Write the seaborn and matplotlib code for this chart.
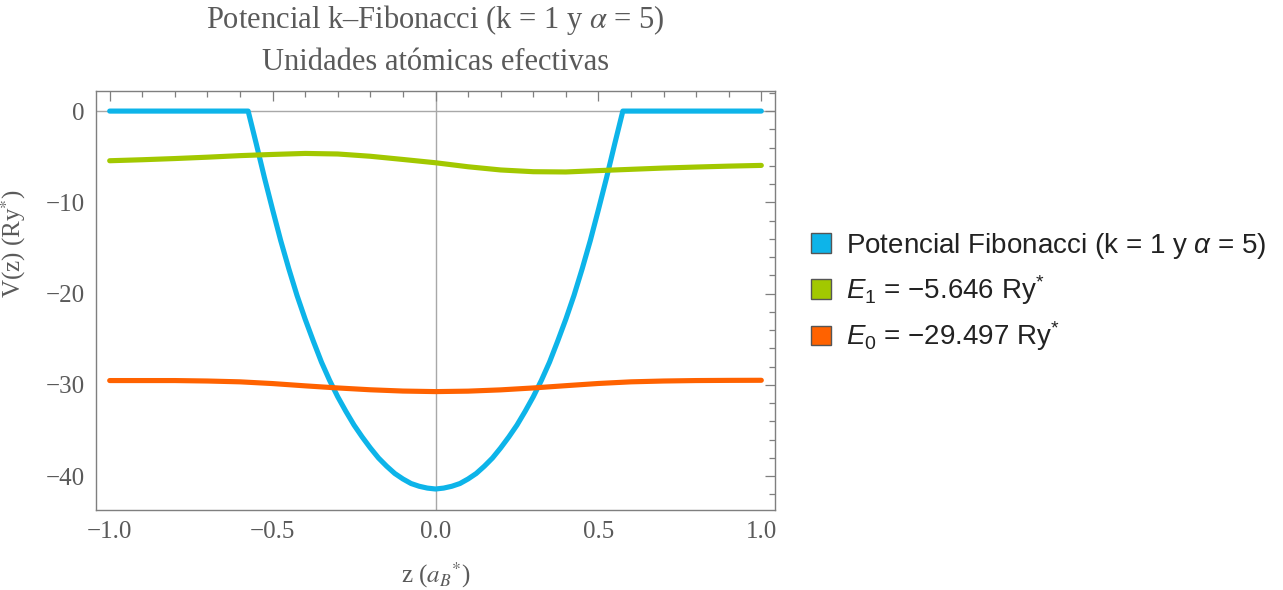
import matplotlib
matplotlib.use("Agg")
import matplotlib.pyplot as plt
from matplotlib.patches import Patch
from matplotlib.ticker import MultipleLocator, FuncFormatter
import seaborn as sns

# Potential well (Ry*) versus z (a_B*)
pot_z = [-1.0, -0.575, -0.55, -0.525, -0.50, -0.475, -0.45, -0.425, -0.40,
         -0.375, -0.35, -0.325, -0.30, -0.275, -0.25, -0.225, -0.20, -0.175,
         -0.15, -0.125, -0.10, -0.075, -0.05, -0.025, 0.0,
         0.025, 0.05, 0.075, 0.10, 0.125, 0.15, 0.175, 0.20, 0.225, 0.25,
         0.275, 0.30, 0.325, 0.35, 0.375, 0.40, 0.425, 0.45, 0.475, 0.50,
         0.525, 0.55, 0.575, 1.0]
pot_v = [0.0, 0.0, -3.6, -7.3, -10.8, -14.2, -17.3, -20.2, -22.8,
         -25.2, -27.5, -29.5, -31.3, -32.9, -34.4, -35.7, -36.9, -38.0,
         -38.9, -39.7, -40.3, -40.8, -41.1, -41.3, -41.4,
         -41.3, -41.1, -40.8, -40.3, -39.7, -38.9, -38.0, -36.9, -35.7, -34.4,
         -32.9, -31.3, -29.5, -27.5, -25.2, -22.8, -20.2, -17.3, -14.2, -10.8,
         -7.3, -3.6, 0.0, 0.0]

# Levels drawn with their wavefunction profile superimposed
lvl_z = [-1.0, -0.9, -0.8, -0.7, -0.6, -0.5, -0.4, -0.3, -0.2, -0.1, 0.0,
         0.1, 0.2, 0.3, 0.4, 0.5, 0.6, 0.7, 0.8, 0.9, 1.0]
e1_v = [-5.44, -5.33, -5.20, -5.05, -4.88, -4.75, -4.64, -4.70, -4.95, -5.30,
        -5.66, -6.10, -6.45, -6.64, -6.67, -6.52, -6.38, -6.24, -6.13, -6.03,
        -5.95]
e0_v = [-29.52, -29.52, -29.52, -29.57, -29.66, -29.85, -30.10, -30.33,
        -30.53, -30.67, -30.73, -30.68, -30.54, -30.33, -30.08, -29.84,
        -29.66, -29.57, -29.52, -29.50, -29.49]

labels = ["Potencial Fibonacci (k = 1 y $\\alpha$ = 5)",
          "$E_1$ = \u22125.646 Ry$^{*}$",
          "$E_0$ = \u221229.497 Ry$^{*}$"]
colors = ["#0db4e9", "#a2c800", "#ff6200"]

sns.set_theme(style="white")
plt.rcParams["font.family"] = ["Liberation Serif", "DejaVu Serif"]
plt.rcParams["mathtext.fontset"] = "custom"
plt.rcParams["mathtext.rm"] = "Liberation Sans"
plt.rcParams["mathtext.it"] = "Liberation Sans:italic"
plt.rcParams["axes.unicode_minus"] = True

gray = "#5a5a5a"
frame = "#7f7f7f"

fig = plt.figure(figsize=(12.83, 5.90), dpi=100)
ax = fig.add_axes([96 / 1283, 1 - 510 / 590, (775 - 96) / 1283, (510 - 91) / 590])

# Coordinate axes through the origin
ax.axhline(0, color="#a8a8a8", lw=1.0, zorder=0)
ax.axvline(0, color="#a8a8a8", lw=1.0, zorder=0)

lw = 3.7
sns.lineplot(x=pot_z, y=pot_v, ax=ax, color=colors[0], lw=lw, sort=False,
             estimator=None, legend=False)
sns.lineplot(x=lvl_z, y=e1_v, ax=ax, color=colors[1], lw=lw, sort=False,
             estimator=None, legend=False)
sns.lineplot(x=lvl_z, y=e0_v, ax=ax, color=colors[2], lw=lw, sort=False,
             estimator=None, legend=False)

ax.set_xlim(-1.042, 1.042)
ax.set_ylim(-43.7, 2.2)
ax.xaxis.set_major_locator(MultipleLocator(0.5))
ax.xaxis.set_minor_locator(MultipleLocator(0.1))
ax.yaxis.set_major_locator(MultipleLocator(10))
ax.yaxis.set_minor_locator(MultipleLocator(2))
ax.yaxis.set_major_formatter(FuncFormatter(
    lambda v, p: f"{v:.0f}".replace("-", "\u2212")))
ax.xaxis.set_major_formatter(FuncFormatter(
    lambda v, p: f"{v:.1f}".replace("-", "\u2212")))

ax.tick_params(which="both", direction="in", top=True, right=True,
               color=frame, width=0.9, labelsize=18, labelcolor=gray)
ax.tick_params(which="major", length=7, pad=8)
ax.tick_params(which="minor", length=4)
for s in ax.spines.values():
    s.set_color(frame)
    s.set_linewidth(1.0)

ax.set_xlabel("z ($a_{B}{}^{*}$)", fontsize=18, color=gray, labelpad=12,
              math_fontfamily="stix")
ax.set_ylabel("V(z) (Ry$^{*}$)", fontsize=18, color=gray,
              math_fontfamily="stix")
ax.yaxis.set_label_coords((28 - 96) / 679, (510 - 243) / 419)

cx = (96 + 775) / 2 / 1283
fig.text(cx, 1 - 20 / 590, "Potencial k\u2013Fibonacci (k = 1 y $\\alpha$ = 5)",
         ha="center", va="center", fontsize=22, color=gray,
         math_fontfamily="stix")
fig.text(cx, 1 - 62 / 590, "Unidades atómicas efectivas",
         ha="center", va="center", fontsize=22, color=gray)

handles = [Patch(facecolor=c, edgecolor="#555555", lw=1.0) for c in colors]
leg = fig.legend(handles, labels, loc="center left",
                 bbox_to_anchor=(811 / 1283, 1 - 292 / 590),
                 frameon=False, fontsize=20, handlelength=0.72,
                 handleheight=0.72, handletextpad=0.55, labelspacing=0.45,
                 borderaxespad=0, borderpad=0)
for t in leg.get_texts():
    t.set_fontfamily(["Liberation Sans", "DejaVu Sans"])
    t.set_color("#222222")

fig.savefig("out.png", dpi=100)
